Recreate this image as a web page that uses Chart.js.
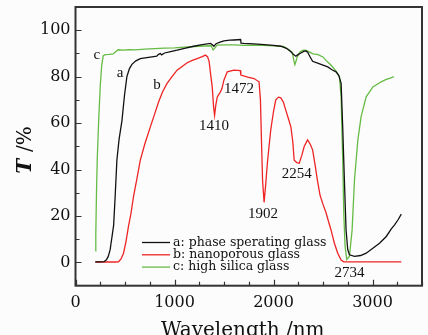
<!DOCTYPE html>
<html>
<head>
<meta charset="utf-8">
<script src="https://cdn.jsdelivr.net/npm/chart.js@4/dist/chart.umd.min.js"></script>
<style>
  html, body { margin: 0; padding: 0; background: #fcfcfc; }
  canvas { display: block; }
</style>
</head>
<body>
<canvas id="chartT" width="428" height="335"></canvas>
<script>
// datos (longitud de onda en nm, T en %)
const wlA = [200, 250, 290, 310, 330, 350, 365, 385, 400, 418, 440, 469, 495, 519, 545, 570, 610, 654, 720, 789, 820, 840, 857, 870, 900, 960, 1026, 1100, 1195, 1280, 1364, 1385, 1398, 1420, 1460, 1499, 1560, 1600, 1668, 1672, 1700, 1800, 1905, 2000, 2074, 2130, 2176, 2200, 2226, 2250, 2277, 2310, 2327, 2345, 2370, 2395, 2446, 2500, 2548, 2590, 2632, 2660, 2683, 2700, 2716, 2733, 2750, 2767, 2818, 2880, 2936, 3000, 3071, 3139, 3190, 3223, 3260, 3291];
const tA  = [0.3, 0.3, 0.4, 1.0, 2.5, 5.5, 10, 16, 28, 44, 53, 61, 72, 80, 83.5, 85.3, 86.8, 87.8, 88.2, 88.6, 88.8, 89.6, 90.0, 89.4, 90.2, 90.8, 91.4, 92.2, 93.1, 93.8, 94.3, 93.6, 93.1, 94.2, 94.9, 95.4, 95.7, 95.8, 96.0, 94.4, 94.3, 94.1, 93.8, 93.5, 93.1, 92.2, 90.7, 89.6, 88.8, 89.6, 90.2, 91.0, 91.1, 90.5, 88.5, 86.6, 85.8, 85.0, 84.2, 83.0, 82.1, 80.5, 77.1, 57, 35.5, 14, 5.5, 3.3, 2.6, 3.0, 4.0, 6.0, 8.3, 11.2, 14.5, 16.2, 18.5, 20.8];

const wlB = [200, 300, 400, 434, 460, 485, 510, 535, 560, 586, 620, 654, 700, 756, 800, 840, 880, 925, 975, 1026, 1080, 1128, 1180, 1229, 1280, 1313, 1335, 1350, 1365, 1381, 1395, 1405, 1418, 1432, 1450, 1465, 1480, 1499, 1533, 1600, 1665, 1670, 1740, 1803, 1854, 1868, 1880, 1890, 1905, 1920, 1938, 1955, 1972, 2000, 2023, 2050, 2074, 2100, 2124, 2150, 2175, 2195, 2209, 2235, 2260, 2285, 2310, 2344, 2370, 2395, 2420, 2445, 2470, 2500, 2530, 2560, 2581, 2615, 2649, 2683, 2710, 2800, 3000, 3291];
const tB  = [0.2, 0.2, 0.2, 0.3, 1.5, 4, 9, 15.5, 21, 28.4, 36, 44, 51, 58.4, 64, 69.2, 73.5, 77.1, 80, 82.8, 84.5, 86, 87, 87.8, 88.6, 89.3, 88.5, 86.5, 81, 75.6, 67, 63.3, 68, 71.3, 72.5, 73.5, 75, 78.5, 82.1, 82.8, 82.6, 80.7, 79.8, 79.2, 77.8, 70, 50, 35, 25.9, 33, 42.7, 50, 57, 65, 70, 71.2, 70.9, 69, 65.6, 62, 58.5, 52, 44, 43, 42.7, 46, 49.9, 52.8, 51, 48.5, 42, 35, 29, 25, 21.5, 17, 14, 8.3, 4, 1, 0.3, 0.3, 0.3, 0.3];

const wlC = [200, 205, 212, 220, 235, 250, 265, 280, 300, 340, 380, 400, 430, 480, 550, 600, 700, 800, 900, 1000, 1100, 1200, 1300, 1370, 1390, 1405, 1430, 1500, 1600, 1700, 1800, 1900, 2000, 2100, 2150, 2190, 2205, 2216, 2240, 2270, 2300, 2330, 2360, 2400, 2450, 2500, 2530, 2580, 2630, 2666, 2683, 2700, 2710, 2723, 2740, 2767, 2794, 2818, 2852, 2885, 2936, 3004, 3088, 3139, 3180, 3215];
const tC  = [5, 12, 30, 45, 62, 76, 85, 89, 89.5, 89.6, 89.8, 90.5, 91.6, 91.4, 91.6, 91.5, 91.9, 92.1, 92.3, 92.4, 92.7, 93.0, 93.2, 93.3, 91.5, 92.2, 93.6, 93.7, 93.7, 93.5, 93.6, 93.5, 93.3, 93.0, 91.8, 90.5, 87, 85.2, 88.5, 90.7, 91.4, 91.3, 90.7, 89.8, 89.5, 88.5, 87, 85, 82.5, 80, 71.3, 42.7, 21, 6.9, 1.3, 2.6, 14, 35.5, 52.7, 62.8, 71.3, 75.6, 77.8, 78.8, 79.4, 80];

const etiquetas = ['a: phase sperating glass', 'b: nanoporous glass', 'c: high silica glass'];
const colores = ['#111111', '#ee2424', '#66bb44'];

const xTicks = [0, 1000, 2000, 3000];
const yTicks = [0, 20, 40, 60, 80, 100];

// notas sobre las curvas: texto, longitud de onda, T
const notas = [
  ['a', 451, 81.6], ['b', 823, 76.4], ['c', 215, 89.5],
  ['1410', 1398, 58.7], ['1472', 1651, 74.5], ['1902', 1895, 20.9],
  ['2254', 2236, 38.1], ['2734', 2767, -4.6]
];

function puntos(xs, ys) {
  return xs.map((x, i) => ({ x: x, y: ys[i] }));
}

const marco = {
  id: 'marco',
  beforeDraw(chart) {
    const ctx = chart.ctx;
    ctx.save();
    ctx.fillStyle = '#fcfcfc';
    ctx.fillRect(0, 0, chart.width, chart.height);
    ctx.restore();
  },
  afterDraw(chart) {
    const ctx = chart.ctx;
    const a = chart.chartArea;
    const sx = chart.scales.x, sy = chart.scales.y;
    ctx.save();

    // marco
    ctx.strokeStyle = '#333';
    ctx.lineWidth = 2;
    ctx.strokeRect(a.left, a.top, a.right - a.left, a.bottom - a.top);

    // marcas hacia dentro
    ctx.lineWidth = 1.2;
    ctx.beginPath();
    for (let v = 0; v <= 3500; v += 250) {
      const px = Math.round(sx.getPixelForValue(v)) + 0.5;
      const len = v % 1000 === 0 ? 6 : 4;
      ctx.moveTo(px, a.bottom);
      ctx.lineTo(px, a.bottom - len);
    }
    for (let v = 0; v <= 100; v += 10) {
      const py = Math.round(sy.getPixelForValue(v)) + 0.5;
      const len = v % 20 === 0 ? 6 : 4;
      ctx.moveTo(a.left, py);
      ctx.lineTo(a.left + len, py);
    }
    ctx.stroke();

    // notas
    ctx.fillStyle = '#111';
    ctx.font = '15px "Liberation Serif"';
    ctx.textAlign = 'center';
    ctx.textBaseline = 'middle';
    notas.forEach(n => {
      ctx.fillText(n[0], sx.getPixelForValue(n[1]), sy.getPixelForValue(n[2]));
    });

    // leyenda
    ctx.font = '12.5px "DejaVu Serif"';
    ctx.textAlign = 'left';
    chart.data.datasets.forEach((ds, i) => {
      const y = 242.5 + i * 12.3;
      ctx.strokeStyle = ds.borderColor;
      ctx.lineWidth = 1.3;
      ctx.beginPath();
      ctx.moveTo(142, y);
      ctx.lineTo(170, y);
      ctx.stroke();
      ctx.fillStyle = '#111';
      ctx.fillText(ds.label, 173, y);
    });

    // titulos de los ejes
    ctx.font = '20px "DejaVu Serif"';
    ctx.textAlign = 'center';
    ctx.textBaseline = 'alphabetic';
    ctx.fillText('Wavelength /nm', (a.left + a.right) / 2 - 6, 336);

    ctx.translate(31, 150);
    ctx.rotate(-Math.PI / 2);
    ctx.textAlign = 'left';
    ctx.font = 'italic bold 20px "DejaVu Serif"';
    const wT = ctx.measureText('T ').width;
    ctx.font = '20px "DejaVu Serif"';
    const wR = ctx.measureText('/%').width;
    const x0 = -(wT + wR) / 2;
    ctx.font = 'italic bold 20px "DejaVu Serif"';
    ctx.fillText('T', x0, 0);
    ctx.font = '20px "DejaVu Serif"';
    ctx.fillText('/%', x0 + wT, 0);
    ctx.restore();
  }
};

new Chart(document.getElementById('chartT'), {
  type: 'line',
  data: {
    datasets: [
      { label: etiquetas[0], data: puntos(wlA, tA), borderColor: colores[0] },
      { label: etiquetas[1], data: puntos(wlB, tB), borderColor: colores[1] },
      { label: etiquetas[2], data: puntos(wlC, tC), borderColor: colores[2] }
    ]
  },
  options: {
    responsive: false,
    animation: false,
    devicePixelRatio: 1,
    layout: { padding: { top: 7, right: 6, left: 0, bottom: 0 } },
    elements: {
      point: { radius: 0 },
      line: { borderWidth: 1.3, tension: 0 }
    },
    plugins: {
      legend: { display: false },
      tooltip: { enabled: false }
    },
    scales: {
      x: {
        type: 'linear',
        min: 0,
        max: 3500,
        grid: { display: false, drawTicks: false },
        border: { display: false },
        afterBuildTicks: s => { s.ticks = xTicks.map(v => ({ value: v })); },
        afterFit: s => { s.height = 49.3; s.paddingLeft = 0; s.paddingRight = 0; },
        ticks: {
          padding: 8,
          color: '#111',
          maxRotation: 0,
          callback: v => String(v),
          font: { family: 'DejaVu Serif', size: 16 }
        }
      },
      y: {
        min: -10,
        max: 110,
        grid: { display: false, drawTicks: false },
        border: { display: false },
        afterBuildTicks: s => { s.ticks = yTicks.map(v => ({ value: v })); },
        afterFit: s => { s.width = 75.5; s.paddingTop = 0; s.paddingBottom = 0; },
        ticks: {
          padding: 5,
          color: '#111',
          callback: v => String(v),
          font: { family: 'DejaVu Serif', size: 16 }
        }
      }
    }
  },
  plugins: [marco]
});
</script>
</body>
</html>
